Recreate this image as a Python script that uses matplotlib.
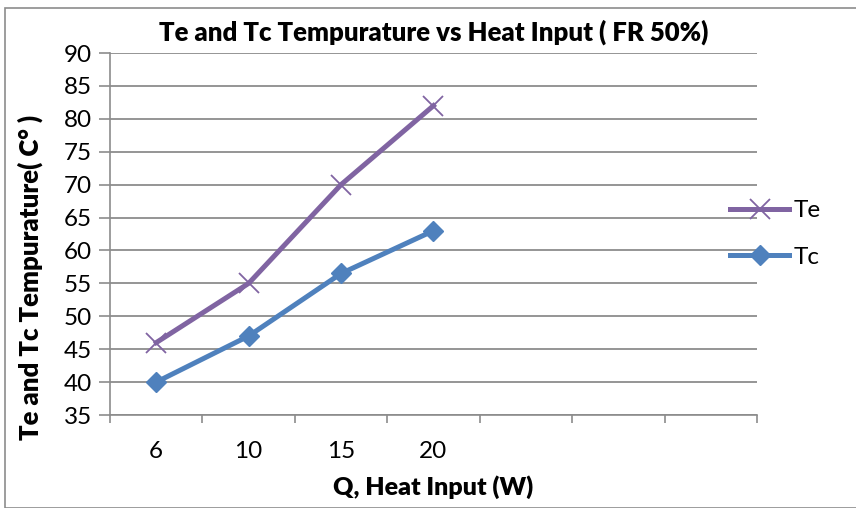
import numpy as np
import matplotlib.pyplot as plt
from matplotlib.patches import Rectangle

# data
heat_input = ["6", "10", "15", "20"]
n_slots = 7  # the category axis leaves three empty slots on the right
te_values = [46, 55, 70, 82]
tc_values = [40, 47, 56.5, 63]
y_ticks = list(range(35, 95, 5))

plt.rcParams['font.family'] = ['Lato', 'DejaVu Sans']

fig = plt.figure(figsize=(8.56, 5.08), dpi=100)
ax = fig.add_axes([110 / 856, 1 - 415 / 508, (757 - 110) / 856, (415 - 53) / 508])

# outer chart border
fig.patches.append(Rectangle((5 / 856, 0), 1, 1 - 8 / 508, transform=fig.transFigure,
                             fill=False, edgecolor="#8c8c8c", linewidth=1.2))

x = np.arange(len(heat_input)) + 0.5
ax.plot(x, te_values, color="#8064A2", linewidth=3.6, marker="x", markersize=14,
        markeredgewidth=1.3, label="Te", zorder=3, clip_on=False)
ax.plot(x, tc_values, color="#4F81BD", linewidth=3.6, marker="D", markersize=10,
        label="Tc", zorder=3, clip_on=False)

ax.set_xlim(0, n_slots)
ax.set_ylim(35, 90)
ax.set_yticks(y_ticks)
ax.set_xticks(np.arange(n_slots + 1))
ax.set_xticklabels([])
ax.set_xticks(x, minor=True)
ax.set_xticklabels(heat_input, minor=True)
ax.tick_params(axis="x", which="minor", length=0, pad=19, labelsize=17.5)
ax.tick_params(axis="x", which="major", length=6, color="#8c8c8c", width=1.2)
ax.tick_params(axis="y", length=8, color="#8c8c8c", width=1.2, labelsize=17.5, pad=5)

ax.grid(axis="y", color="#8c8c8c", linewidth=1.3)
ax.set_axisbelow(True)
for side in ["top", "right"]:
    ax.spines[side].set_visible(False)
for side in ["left", "bottom"]:
    ax.spines[side].set_color("#8c8c8c")
    ax.spines[side].set_linewidth(1.2)

ax.set_title("Te and Tc Tempurature vs Heat Input ( FR 50%)", fontsize=18.5,
             fontweight="heavy", pad=9)
ax.set_xlabel("Q, Heat Input (W)", fontsize=18, fontweight="heavy", labelpad=9)
ax.set_ylabel("Te and Tc Tempurature( C° )", fontsize=18.5, fontweight="heavy",
              va="center")
ax.yaxis.set_label_coords(-0.124, 0.38)

ax.legend(loc="center left", bbox_to_anchor=(0.925, 0.5), frameon=False, fontsize=17.5,
          handlelength=2.4, labelspacing=1.05, handletextpad=0.2)

fig.savefig("out.png", dpi=100)
